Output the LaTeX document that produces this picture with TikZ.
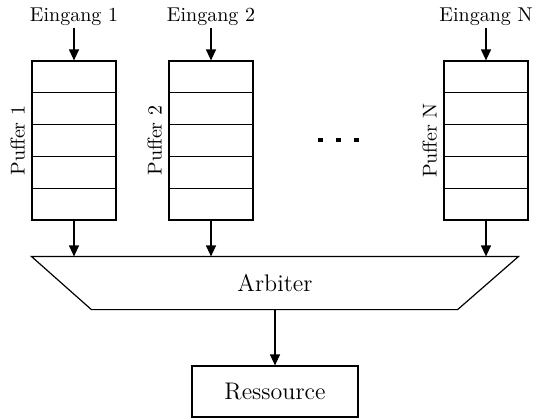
\documentclass[tikz,border=0pt]{standalone}
\usetikzlibrary{arrows.meta,calc}
\begin{document}
\begin{tikzpicture}[x=0.5pt,y=-0.5pt,
  line width=0.6pt,
  arr/.style={-{Triangle[length=5.5pt,width=5pt]}},
  buf/.style={draw,minimum width=42pt,minimum height=79.5pt,inner sep=0pt},
  inlab/.style={anchor=base,inner sep=1pt,font=\normalsize},
  buflab/.style={rotate=90,anchor=south,inner sep=3pt},
  dotsq/.style={fill,minimum width=2.5pt,minimum height=2.3pt,inner sep=0pt}]
\useasboundingbox (0,0) rectangle (533,418);
% buffers
\foreach \n/\x/\lab in {1/74/1,2/211/2,N/486/N}{
  \node[buf] (b\n) at (\x,140.5) {};
  \foreach \k in {1,...,4}{
    \draw ($(b\n.north west)!\k/5!(b\n.south west)$) -- ($(b\n.north east)!\k/5!(b\n.south east)$);
  }
  \node[inlab] (in\n) at (\x,21) {Eingang \lab};
  \node[buflab] (pl\n) at (b\n.west) {Puffer \lab};
  \draw[arr] (in\n.south) -- (b\n.north);
}
% dots
\node[dotsq] (d1) at (320,140) {};
\node[dotsq] (d2) at (338,140) {};
\node[dotsq] (d3) at (356,140) {};
% arbiter
\node[minimum width=243pt,minimum height=26pt,inner sep=0pt,font=\large] (arb) at (275,283) {Arbiter};
\draw (arb.north west) -- (arb.north east) -- ([xshift=-30.5pt]arb.south east) -- ([xshift=30pt]arb.south west) -- cycle;
\foreach \n in {1,2,N}{
  \draw[arr] (b\n.south) -- (b\n.south |- arb.north);
}
% resource
\node[draw,minimum width=83pt,minimum height=25.5pt,inner sep=0pt,font=\large] (res) at (275,391.5) {Ressource};
\draw[arr] (arb.south) -- (res.north);
\end{tikzpicture}
\end{document}
